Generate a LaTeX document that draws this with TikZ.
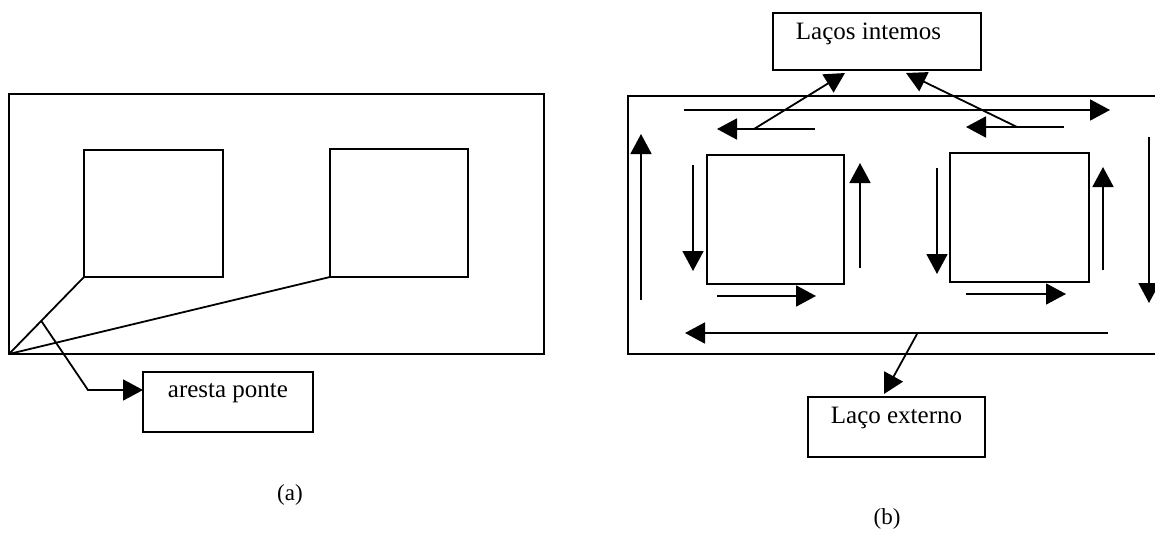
\documentclass[tikz,border=0pt]{standalone}
\usepackage{fontspec}
\setmainfont{Liberation Serif}
\usetikzlibrary{arrows.meta,calc}
\begin{document}
\begin{tikzpicture}[x=1pt,y=-1pt, line width=1.8pt,
  frame/.style={draw, rectangle, inner sep=0pt, outer sep=0pt, anchor=north west},
  arr/.style={-{Triangle[length=20pt,width=21pt]}},
  lbl/.style={font=\fontsize{25}{30}\selectfont, inner sep=0pt, anchor=base west},
  capt/.style={font=\fontsize{23}{28}\selectfont, inner sep=0pt}]
\useasboundingbox (0,0) rectangle (1155,535);
\clip (0,0) rectangle (1155,535);

% ---------- (a) ----------
\node[frame, minimum width=535pt, minimum height=260pt] (outerA) at (9,94) {};
\node[frame, minimum width=139pt, minimum height=127pt] (sqA1) at (84,150) {};
\node[frame, minimum width=138pt, minimum height=128pt] (sqA2) at (330,149) {};
\node[frame, minimum width=170pt, minimum height=60pt] (ap) at (143,372) {};
\node[lbl] (apt) at (167,397) {aresta ponte};

\draw (outerA.south west) -- (sqA1.south west);
\draw (outerA.south west) -- (sqA2.south west);
\coordinate (br) at ($(outerA.south west)!0.43!(sqA1.south west)$);
\coordinate (bend) at (88,390);
\draw[arr] (br) -- (bend) -- (bend -| ap.west);

\node[capt] (capa) at (290,495) {(a)};

% ---------- (b) ----------
\node[frame, minimum width=535pt, minimum height=258pt] (outerB) at (628,96) {};
\node[frame, minimum width=137pt, minimum height=129pt] (sqB1) at (707,155) {};
\node[frame, minimum width=139pt, minimum height=129pt] (sqB2) at (950,153) {};

\node[frame, minimum width=208pt, minimum height=57pt] (li) at (773,13) {};
\node[lbl] (lit) at (795,40) {Laços intemos};
\node[frame, minimum width=177pt, minimum height=60pt] (le) at (808,397) {};
\node[lbl] (let) at (830,423) {Laço externo};

% loops
\draw[arr] (684,110) -- (1110,110);
\draw[arr] (815,129) -- (717,129);
\draw[arr] (1064,127) -- (966,127);
\draw[arr] (641,300) -- (641,134);
\draw[arr] (693,165) -- (693,271);
\draw[arr] (860,268) -- (860,163);
\draw[arr] (717,296) -- (816,296);
\draw[arr] (937,168) -- (937,274);
\draw[arr] (1103,270) -- (1103,167);
\draw[arr] (966,294) -- (1066,294);
\draw[arr] (1149,137) -- (1149,303);
\draw[arr] (1108,333) -- (685,333);

% label connectors
\coordinate (d1s) at (754,129);
\coordinate (d1e) at (845,73);
\coordinate (d2s) at (1017,127);
\coordinate (d2e) at (906,73);
\coordinate (d3s) at (917,334);
\coordinate (d3e) at (884,394);
\draw[arr] (d1s) -- (d1e);
\draw[arr] (d2s) -- (d2e);
\draw[arr] (d3s) -- (d3e);

\node[capt] (capb) at (887,519) {(b)};
\end{tikzpicture}
\end{document}
